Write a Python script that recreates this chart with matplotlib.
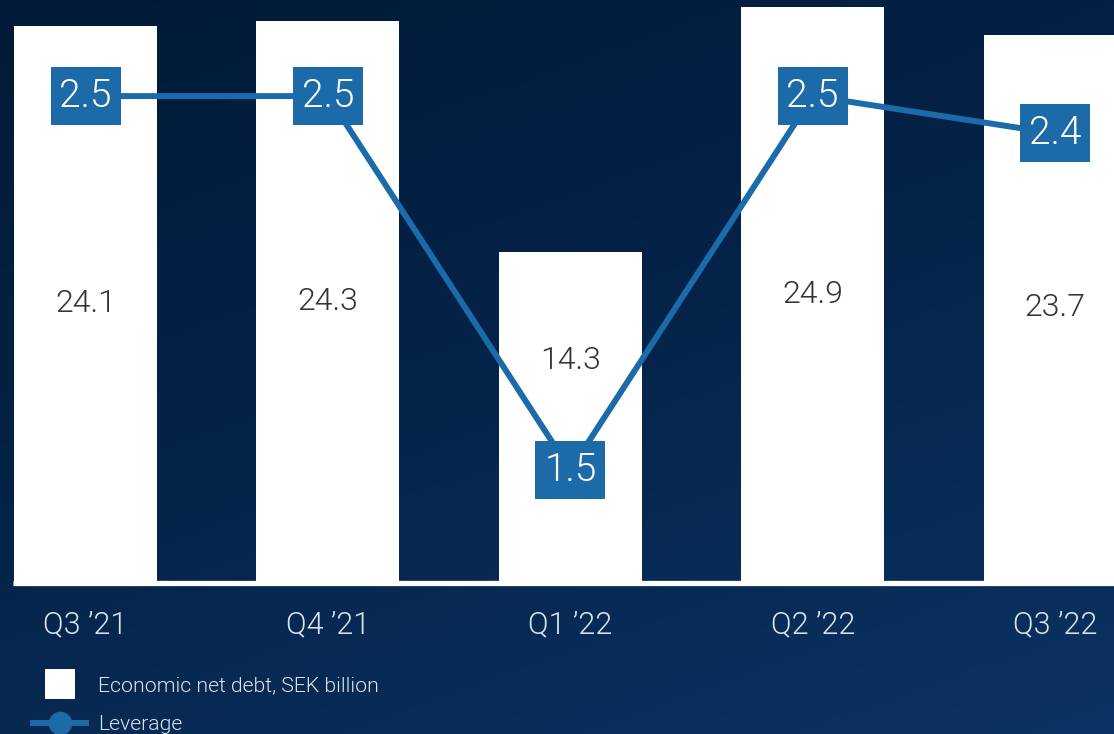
import numpy as np
import matplotlib
matplotlib.use("Agg")
import matplotlib.pyplot as plt
from matplotlib.colors import LinearSegmentedColormap
from matplotlib.lines import Line2D
from matplotlib.path import Path

quarters = ["Q3 \u201921", "Q4 \u201921", "Q1 \u201922", "Q2 \u201922", "Q3 \u201922"]
net_debt = [24.1, 24.3, 14.3, 24.9, 23.7]
leverage = [2.5, 2.5, 1.5, 2.5, 2.4]
debt_labels = ["24.1", "24.3", "14.3", "24.9", "23.7"]
lev_labels = ["2.5", "2.5", "1.5", "2.5", "2.4"]
# where the debt label sits, as share of the bar height
label_frac = [0.5, 0.5, 0.67, 0.5, 0.5]

BOX = "#1c6aa8"
FONT = "Roboto"
WEIGHT = 300
W, H = 1114, 734

fig = plt.figure(figsize=(W / 100, H / 100), dpi=100)

# background gradient, darker top-left, lighter bottom-right
bg = fig.add_axes([0, 0, 1, 1], zorder=-10)
gx, gy = np.meshgrid(np.linspace(0, 1, 300), np.linspace(0, 1, 200))
grad = 0.35 * gx + 0.65 * gy
cmap = LinearSegmentedColormap.from_list("bg", ["#011a37", "#05244a", "#0b3363"])
bg.imshow(grad, cmap=cmap, aspect="auto", extent=[0, 1, 1, 0])
bg.axis("off")

bottom_px = 581
ax = fig.add_axes([0, (H - bottom_px) / H, 1, bottom_px / H])
ax.patch.set_visible(False)
x = np.arange(len(quarters))
ax.bar(x, net_debt, width=0.59, color="white", zorder=2)
ax.set_xlim(-0.353, 4.243)
ax.set_ylim(0, bottom_px / 23.04)
ax.hlines(-0.1, -0.3, 4.5, color="white", lw=3.8, clip_on=False)
for xi, v, lab, f in zip(x, net_debt, debt_labels, label_frac):
    ax.text(xi, v * f, lab, ha="center", va="center", fontsize=23,
            color="#333333", family=FONT, fontweight=WEIGHT, zorder=3)

ax.set_xticks(x)
ax.set_xticklabels(quarters, fontsize=22, color="#dde3ec", family=FONT,
                   fontweight=WEIGHT)
ax.tick_params(axis="x", length=0, pad=21)
ax.set_yticks([])
for s in ax.spines.values():
    s.set_visible(False)

ax2 = ax.twinx()
ax2.set_ylim(1.203, 2.757)
ax2.set_yticks([])
for s in ax2.spines.values():
    s.set_visible(False)
box = Path([(-0.5, -0.414), (0.5, -0.414), (0.5, 0.414), (-0.5, 0.414), (-0.5, -0.414)],
           [Path.MOVETO, Path.LINETO, Path.LINETO, Path.LINETO, Path.CLOSEPOLY])
ax2.plot(x, leverage, color=BOX, lw=4.3, marker=box, markersize=50,
         markerfacecolor=BOX, markeredgewidth=0, zorder=4)
for xi, v, lab in zip(x, leverage, lev_labels):
    ax2.text(xi, v, lab, ha="center", va="center", fontsize=28,
             color="white", family=FONT, fontweight=WEIGHT, zorder=5)

handles = [
    Line2D([0], [0], color="white", lw=0, marker="s", markersize=22,
           markeredgewidth=0),
    Line2D([0], [0], color=BOX, lw=4.3, marker="o", markersize=16),
]
fig.legend(handles, ["Economic net debt, SEK billion", "Leverage"],
           loc="lower left", bbox_to_anchor=(0.0125, -0.026), frameon=False,
           prop={"family": FONT, "size": 15.3, "weight": WEIGHT},
           labelcolor="#dde3ec", handlelength=2.5, handletextpad=0.55,
           labelspacing=0.9)

fig.savefig("out.png", dpi=100)
